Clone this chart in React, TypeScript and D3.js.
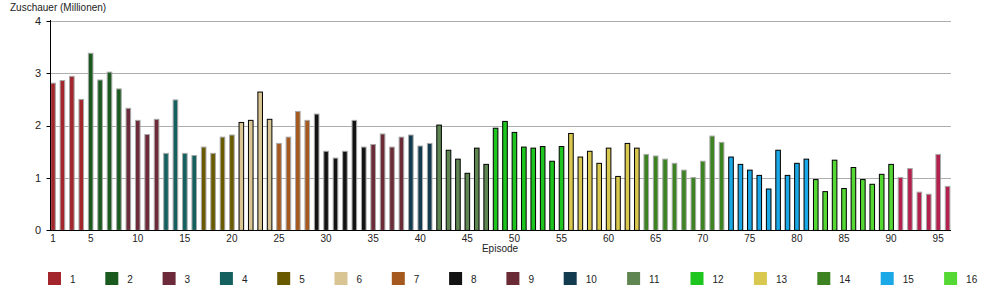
import React from "react";
import * as d3 from "d3";

const viewers: number[] = [
  2.81, 2.86, 2.94, 2.5, 3.38, 2.87, 3.02, 2.7, 2.33, 2.1,
  1.83, 2.12, 1.47, 2.49, 1.47, 1.43, 1.59, 1.47, 1.78, 1.82,
  2.06, 2.1, 2.64, 2.12, 1.66, 1.78, 2.27, 2.1, 2.22, 1.51,
  1.38, 1.51, 2.1, 1.59, 1.64, 1.84, 1.59, 1.78, 1.82, 1.61,
  1.66, 2.01, 1.53, 1.36, 1.09, 1.57, 1.26, 1.95, 2.08, 1.87,
  1.59, 1.57, 1.6, 1.32, 1.6, 1.85, 1.4, 1.51, 1.28, 1.57,
  1.03, 1.66, 1.57, 1.45, 1.42, 1.36, 1.28, 1.15, 1.01, 1.32,
  1.8, 1.68, 1.4, 1.26, 1.15, 1.05, 0.79, 1.53, 1.05, 1.28,
  1.36, 0.97, 0.74, 1.34, 0.8, 1.2, 0.97, 0.88, 1.07, 1.26,
  1.01, 1.18, 0.73, 0.69, 1.45, 0.84,
];

// number of episodes per season (season 17 not in legend)
const seasonEpisodes: number[] = [4, 4, 4, 4, 4, 4, 4, 6, 4, 3, 6, 8, 8, 9, 9, 9, 6];
const seasonColors: string[] = [
  "#a3262d", "#1b5a1f", "#6c2a3a", "#14605f", "#695a00", "#d9c594",
  "#a5591f", "#131313", "#6b2b36", "#133b50", "#5f8652", "#1ec51e",
  "#d9c850", "#3e8322", "#1aa8e6", "#55d734", "#b3204e",
];
const seasonStroke: string[] = [
  "#a8a8a8", "#a8a8a8", "#a8a8a8", "#a8a8a8", "#a8a8a8", "#000000",
  "#a8a8a8", "#a8a8a8", "#a8a8a8", "#a8a8a8", "#000000", "#000000",
  "#000000", "#a8a8a8", "#000000", "#000000", "#a8a8a8",
];
const legendSeasons: string[] = ["1","2","3","4","5","6","7","8","9","10","11","12","13","14","15","16"];
const xTicks: number[] = [1, 5, 10, 15, 20, 25, 30, 35, 40, 45, 50, 55, 60, 65, 70, 75, 80, 85, 90, 95];
const yTicks: number[] = [0, 1, 2, 3, 4];

const FONT = "'Liberation Sans', Arial, sans-serif";

export default function App() {
  const episodes = viewers.map((_, i) => i + 1);
  const seasonOf: number[] = [];
  seasonEpisodes.forEach((n, s) => {
    for (let k = 0; k < n; k++) seasonOf.push(s);
  });

  const left = 50.5;
  const right = 951;
  const x = d3.scalePoint<number>().domain(episodes).range([53, 947.6]);
  const y = d3.scaleLinear().domain([0, 4]).range([230.4, 20.8]);
  const barW = 4.6;

  // legend positions
  let lx = 48;
  const legendItems = legendSeasons.map((lab, i) => {
    const item = { lab, x: lx, color: seasonColors[i] };
    lx += 51.2 + 6.1 * lab.length;
    return item;
  });

  return (
    <svg width={1000} height={300} style={{ position: "absolute", left: 0, top: 0 }} fontFamily={FONT}>
      <rect x={0} y={0} width={1000} height={300} fill="#fff" />
      <text x={10} y={10.5} fontSize={10} fill="#222">Zuschauer (Millionen)</text>
      {yTicks.filter((t) => t > 0).map((t) => (
        <line key={"g" + t} x1={left} x2={right} y1={Math.round(y(t)) + 0.5} y2={Math.round(y(t)) + 0.5} stroke="#adadad" strokeWidth={1} />
      ))}
      {yTicks.map((t) => (
        <g key={"y" + t}>
          <line x1={left - 4} x2={left} y1={Math.round(y(t)) + 0.5} y2={Math.round(y(t)) + 0.5} stroke="#000" />
          <text x={41} y={y(t) + 3.8} fontSize={11} textAnchor="end" fill="#222">{t}</text>
        </g>
      ))}
      {viewers.map((v, i) => {
        const s = seasonOf[i];
        const cx = x(i + 1)!;
        return (
          <rect key={"b" + i} x={cx - barW / 2} y={y(v)} width={barW} height={y(0) - y(v)}
            fill={seasonColors[s]} stroke={seasonStroke[s]} strokeWidth={1} />
        );
      })}
      <line x1={left} x2={left} y1={20} y2={231} stroke="#000" strokeWidth={1} />
      <line x1={left} x2={right} y1={230.5} y2={230.5} stroke="#000" strokeWidth={1} />
      {xTicks.map((t) => (
        <text key={"x" + t} x={x(t)!} y={242} fontSize={10} textAnchor="middle" fill="#222">{t}</text>
      ))}
      <text x={500} y={252} fontSize={10} textAnchor="middle" fill="#222">Episode</text>
      {legendItems.map((it) => (
        <g key={"l" + it.lab}>
          <rect x={it.x} y={272} width={13} height={13} fill={it.color} />
          <text x={it.x + 22} y={282.5} fontSize={10} fill="#222">{it.lab}</text>
        </g>
      ))}
    </svg>
  );
}
